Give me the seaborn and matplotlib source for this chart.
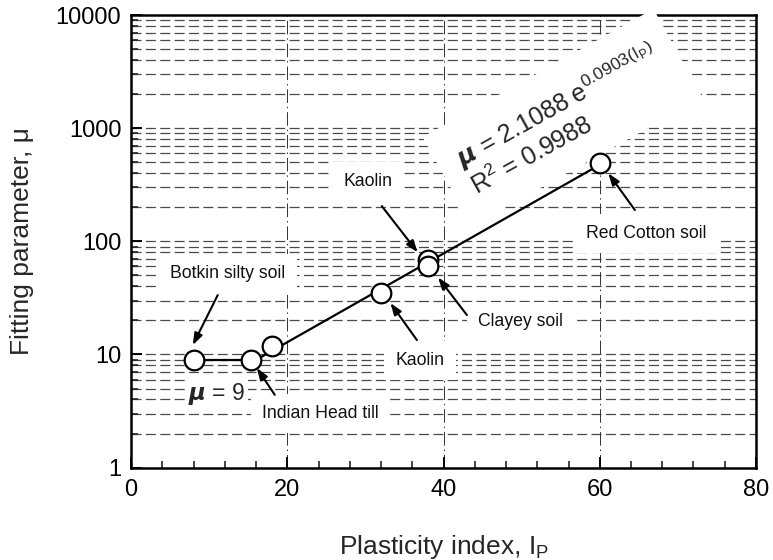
import numpy as np
import pandas as pd
import matplotlib
matplotlib.use("Agg")
import matplotlib.pyplot as plt
import seaborn as sns

# ---- data ----
soil = ["Botkin silty soil", "Indian Head till", "Soil C", "Kaolin", "Kaolin", "Clayey soil", "Red Cotton soil"]
plasticity_index = [8, 15.3, 18, 32, 38, 38, 60]
mu = [9, 9, 12, 35, 68, 60, 490]

# constant segment mu = 9
const_x = [8, 15.3]
const_y = [9, 9]

# exponential fit mu = a * exp(b * Ip)
fit_a = 2.1088
fit_b = 0.0903
fit_r2 = 0.9988
fit_x_range = [15.3, 60]

x_ticks = [0, 20, 40, 60, 80]
y_ticks = [1, 10, 100, 1000, 10000]
y_tick_labels = ["1", "10", "100", "1000", "10000"]

df = pd.DataFrame({"Ip": plasticity_index, "mu": mu, "soil": soil})
fit_x = np.array(fit_x_range)
fit_df = pd.DataFrame({"Ip": fit_x, "mu": fit_a * np.exp(fit_b * fit_x)})
const_df = pd.DataFrame({"Ip": const_x, "mu": const_y})

sns.set_style("ticks")
plt.rcParams["font.family"] = ["Liberation Sans", "DejaVu Sans"]
plt.rcParams["mathtext.fontset"] = "custom"
plt.rcParams["mathtext.rm"] = "Liberation Sans"
plt.rcParams["mathtext.it"] = "Liberation Sans:italic"
plt.rcParams["mathtext.bf"] = "Liberation Sans:bold"

fig = plt.figure(figsize=(7.73, 5.6), dpi=100)
ax = fig.add_axes([0.1695, 0.165, 0.8085, 0.808])

ax.set_yscale("log")
ax.set_xlim(0, 80)
ax.set_ylim(1, 10000)

# grid: horizontal dashed at every log minor/major position, vertical dash-dot at 20/40/60
for dec in [1, 10, 100, 1000]:
    for m in range(1, 10):
        v = dec * m
        if v <= 1:
            continue
        ax.axhline(v, color="#4a4a4a", lw=0.9, ls=(0, (8, 3.5)), zorder=0.5)
for xv in [20, 40, 60]:
    ax.axvline(xv, color="#333333", lw=0.7, ls=(0, (14, 4, 1.5, 4)), zorder=0.5)

# lines
sns.lineplot(data=const_df, x="Ip", y="mu", ax=ax, color="black", lw=1.6, zorder=3)
sns.lineplot(data=fit_df, x="Ip", y="mu", ax=ax, color="black", lw=1.6, zorder=3)
sns.scatterplot(data=df, x="Ip", y="mu", ax=ax, s=200, facecolor="white",
                edgecolor="black", linewidth=1.6, zorder=5, legend=False)

# axes styling
for sp in ax.spines.values():
    sp.set_linewidth(1.8)
    sp.set_color("black")
    sp.set_visible(True)
ax.set_xticks(x_ticks)
ax.set_xticks(np.arange(0, 81, 4), minor=True)
ax.set_yticks(y_ticks)
ax.set_yticklabels(y_tick_labels)
ax.tick_params(axis="both", which="major", direction="in", length=8, width=1.4,
               labelsize=17, pad=8, colors="black")
ax.tick_params(axis="both", which="minor", direction="in", length=5, width=1.2)
ax.tick_params(axis="y", which="major", pad=7)
ax.set_xlabel("Plasticity index, $\\mathrm{I_P}$", fontsize=19)
ax.set_ylabel("Fitting parameter, \u03bc", fontsize=19)
ax.xaxis.set_label_coords(0.5, -0.145)
ax.yaxis.set_label_coords(-0.155, 0.5)

box = dict(facecolor="white", edgecolor="none", pad=8)

def label(text, pos, size=12.7, **kw):
    ax.text(pos[0], pos[1], text, fontsize=size, ha="center", va="center",
            bbox=box, zorder=4, color="#111111", **kw)

def arrow(tail, head):
    ax.annotate("", xy=head, xytext=tail, zorder=6,
                arrowprops=dict(arrowstyle="-|>,head_length=0.7,head_width=0.25",
                                color="black", lw=1.5, shrinkA=0, shrinkB=0))

label("Botkin silty soil", (12.4, 52))
arrow((11.1, 33.5), (7.9, 12.1))
label("Indian Head till", (24.2, 3.03))
arrow((18.4, 4.4), (16.1, 7.6))
label("Kaolin", (37.0, 8.9))
arrow((36.6, 13.4), (33.2, 28.5))
label("Kaolin", (30.3, 340))
arrow((32.1, 205), (36.7, 80))
label("Clayey soil", (49.8, 19.7))
arrow((43.0, 22.3), (39.3, 48))
label("Red Cotton soil", (66.0, 118))
arrow((64.5, 189), (61.1, 400))

ax.text(11.0, 4.5, "$\\boldsymbol{\\mu}$ = 9", fontsize=16.5, ha="center", va="center",
        bbox=dict(facecolor="white", edgecolor="none", pad=2), zorder=4)

eq = "$\\boldsymbol{\\mu}$ = %.4f e$^{%.4f(\\mathrm{I_P})}$\nR$^2$ = %.4f" % (fit_a, fit_b, fit_r2)
ax.text(44.6, 235, eq, fontsize=18, rotation=29, rotation_mode="anchor",
        ha="left", va="bottom", linespacing=1.1, zorder=4,
        bbox=dict(facecolor="white", edgecolor="none", pad=14))

fig.savefig("out.png", dpi=100, facecolor="white")
